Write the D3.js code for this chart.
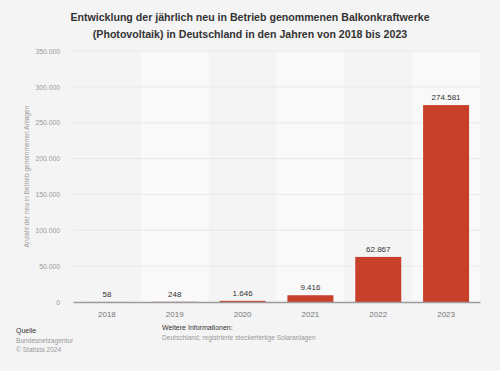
<!DOCTYPE html>
<html><head><meta charset="utf-8">
<script src="https://cdn.jsdelivr.net/npm/d3@7"></script>
<style>
html,body{margin:0;padding:0;background:#f4f4f4;}
text{font-family:"Liberation Sans",Arial,Helvetica,sans-serif;}
</style></head>
<body>
<svg id="chart" width="500" height="371"></svg>
<script>
const years = ["2018","2019","2020","2021","2022","2023"];
const values = [58, 248, 1646, 9416, 62867, 274581];
const yTicks = [0, 50000, 100000, 150000, 200000, 250000, 300000, 350000];
const titleLines = ["Entwicklung der jährlich neu in Betrieb genommenen Balkonkraftwerke",
                    "(Photovoltaik) in Deutschland in den Jahren von 2018 bis 2023"];
const yTitle = "Anzahl der neu in Betrieb genommenen Anlagen";

const fmt = v => d3.format(",")(v).replace(/,/g, ".");

const svg = d3.select("#chart");
const m = {left: 73, right: 480, top: 51, bottom: 302};

svg.append("rect").attr("width",500).attr("height",371).attr("fill","#f4f4f4");

const x = d3.scaleBand().domain(years).range([m.left, m.right]).paddingInner(0).paddingOuter(0);
const y = d3.scaleLinear().domain([0, 350000]).range([m.bottom, m.top]);

// alternating column bands
svg.append("g").selectAll("rect").data(years.filter((d,i)=>i%2===1)).join("rect")
  .attr("x", d => x(d)).attr("width", x.bandwidth())
  .attr("y", m.top).attr("height", m.bottom - m.top)
  .attr("fill", "#f9f9f9");

// gridlines
svg.append("g").selectAll("line").data(yTicks.filter(t=>t>0)).join("line")
  .attr("x1", m.left).attr("x2", m.right)
  .attr("y1", d => y(d)).attr("y2", d => y(d))
  .attr("stroke", "#e4e4e4").attr("stroke-width", 0.8);

// y axis labels
const yAxis = d3.axisLeft(y).tickValues(yTicks).tickFormat(fmt).tickSize(0).tickPadding(0);
const gy = svg.append("g").attr("transform", `translate(${m.left-13},0)`).call(yAxis);
gy.select(".domain").remove();
gy.selectAll("text").attr("fill","#9a9a9a").attr("font-size","6.8px")
  .attr("font-family",'"Liberation Sans",Arial,sans-serif');

// y title
svg.append("text").attr("transform", `translate(29,${(m.top+m.bottom)/2}) rotate(-90)`)
  .attr("text-anchor","middle").attr("fill","#9a9a9a").attr("font-size","6.6px").text(yTitle);

// bars
const bw = 46;
svg.append("g").selectAll("rect").data(years).join("rect")
  .attr("x", d => x(d) + (x.bandwidth()-bw)/2).attr("width", bw)
  .attr("y", (d,i) => y(values[i])).attr("height", (d,i) => m.bottom - y(values[i]))
  .attr("fill", "#c8402a");

// value labels
svg.append("g").selectAll("text").data(years).join("text")
  .attr("x", d => x(d) + x.bandwidth()/2)
  .attr("y", (d,i) => y(values[i]) - 5)
  .attr("text-anchor","middle").attr("fill","#333").attr("font-size","8px")
  .text((d,i) => fmt(values[i]));

// x axis
const xAxis = d3.axisBottom(x).tickSize(0).tickPadding(9);
const gx = svg.append("g").attr("transform", `translate(0,${m.bottom})`).call(xAxis);
gx.select(".domain").attr("stroke","#9a9a9a").attr("stroke-width",1.3);
gx.selectAll("text").attr("fill","#777").attr("font-size","8px")
  .attr("font-family",'"Liberation Sans",Arial,sans-serif');

// title
svg.append("g").selectAll("text").data(titleLines).join("text")
  .attr("x", 250).attr("y", (d,i) => 21 + i*17)
  .attr("text-anchor","middle").attr("font-weight","bold").attr("font-size","10.6px")
  .attr("fill","#333").text(d => d);

// footer
const foot = svg.append("g");
foot.append("text").attr("x",16).attr("y",333).attr("font-size","7px").attr("fill","#333").text("Quelle");
foot.append("text").attr("x",16).attr("y",343).attr("font-size","6.6px").attr("fill","#999").text("Bundesnetzagentur");
foot.append("text").attr("x",16).attr("y",352).attr("font-size","6.6px").attr("fill","#999").text("© Statista 2024");
foot.append("text").attr("x",162).attr("y",330).attr("font-size","7px").attr("fill","#333").text("Weitere Informationen:");
foot.append("text").attr("x",162).attr("y",340).attr("font-size","6.6px").attr("fill","#999").text("Deutschland; registrierte steckerfertige Solaranlagen");
</script>
</body></html>
